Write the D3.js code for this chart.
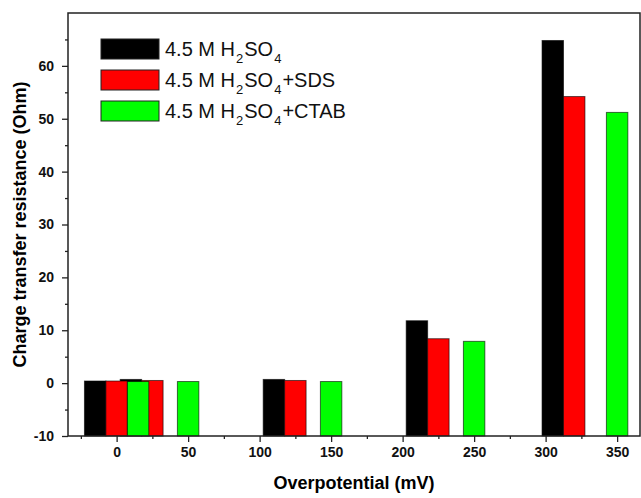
<!DOCTYPE html>
<html lang="en">
<head>
    <meta charset="UTF-8">
    <title>Charge transfer resistance</title>
    <script src="https://d3js.org/d3.v7.min.js"></script>
    <style>
        body { margin: 0; background: white; }
        svg { display: block; font-family: "Liberation Sans", Arial, sans-serif; }
        .tick text { font-weight: bold; font-size: 14px; fill: #111; }
        .tick line { stroke: #222; stroke-width: 1.3; }
    </style>
</head>
<body>
    <svg id="svg"></svg>
    <script>
        // series (bar centres on the overpotential axis, and bar heights)
        const seriesNames = ["4.5 M H_2SO_4", "4.5 M H_2SO_4+SDS", "4.5 M H_2SO_4+CTAB"];
        const seriesColors = ["#000000", "#ff0000", "#00ff00"];
        const blackX = [-15, 10, 110, 210, 305];
        const blackY = [0.4, 0.7, 0.7, 11.8, 64.8];
        const redX = [0, 25, 125, 225, 320];
        const redY = [0.4, 0.5, 0.5, 8.4, 54.2];
        const greenX = [15, 50, 150, 250, 350];
        const greenY = [0.3, 0.3, 0.3, 7.9, 51.2];
        const xTicks = [0, 50, 100, 150, 200, 250, 300, 350];
        const xMinor = [-25, 25, 75, 125, 175, 225, 275, 325];
        const yTicks = [-10, 0, 10, 20, 30, 40, 50, 60];
        const yMinor = [-5, 5, 15, 25, 35, 45, 55, 65];

        const width = 641, height = 498;
        const pLeft = 68, pRight = 640, pTop = 13, pBottom = 436;
        const barW = 15;

        const svg = d3.select('#svg').attr('width', width).attr('height', height);

        const x = d3.scaleLinear().domain([-34, 366]).range([pLeft, pRight]);
        const y = d3.scaleLinear().domain([-10, 70]).range([pBottom, pTop]);

        const allSeries = [
            { xs: blackX, ys: blackY },
            { xs: redX, ys: redY },
            { xs: greenX, ys: greenY }
        ];

        // bars, drawn from the bottom of the axis like Origin does
        allSeries.forEach((s, i) => {
            const pts = s.xs.map((v, j) => [v, s.ys[j]]);
            svg.append('g').selectAll('rect')
                .data(pts)
                .enter()
                .append('rect')
                .attr('x', d => x(d[0] - barW / 2))
                .attr('width', d => x(d[0] + barW / 2) - x(d[0] - barW / 2))
                .attr('y', d => y(d[1]))
                .attr('height', d => y(-10) - y(d[1]))
                .attr('fill', seriesColors[i])
                .attr('stroke', '#000')
                .attr('stroke-opacity', 0.6)
                .attr('stroke-width', 1);
        });

        //axes
        const fmt = d => String(d);
        svg.append('g').attr('transform', 'translate(0,' + pBottom + ')')
            .call(d3.axisBottom(x).tickValues(xTicks).tickSize(6).tickPadding(5).tickFormat(fmt));
        svg.append('g').attr('transform', 'translate(0,' + pBottom + ')')
            .call(d3.axisBottom(x).tickValues(xMinor).tickSize(3).tickFormat(''));
        svg.append('g').attr('transform', 'translate(' + pLeft + ',0)')
            .call(d3.axisLeft(y).tickValues(yTicks).tickSize(6).tickPadding(8).tickFormat(fmt));
        svg.append('g').attr('transform', 'translate(' + pLeft + ',0)')
            .call(d3.axisLeft(y).tickValues(yMinor).tickSize(3).tickFormat(''));
        svg.selectAll('.domain').remove();
        svg.selectAll('.tick text').filter(function() { return this.textContent === ''; }).remove();

        // frame
        svg.append('rect')
            .attr('x', pLeft).attr('y', pTop)
            .attr('width', pRight - pLeft).attr('height', pBottom - pTop)
            .attr('fill', 'none').attr('stroke', '#222').attr('stroke-width', 1.5);

        // axis titles
        svg.append('text')
            .attr('x', (pLeft + pRight) / 2).attr('y', 489)
            .attr('text-anchor', 'middle')
            .style('font-weight', 'bold').style('font-size', '18px')
            .text('Overpotential (mV)');
        svg.append('text')
            .attr('transform', 'translate(26,' + (pTop + pBottom) / 2 + ') rotate(-90)')
            .attr('text-anchor', 'middle')
            .style('font-weight', 'bold').style('font-size', '18px')
            .text('Charge transfer resistance (Ohm)');

        // legend, subscripts as lowered tspans
        const legend = svg.append('g').attr('transform', 'translate(101,39)');
        seriesNames.forEach((name, i) => {
            const row = legend.append('g').attr('transform', 'translate(0,' + i * 31 + ')');
            row.append('rect')
                .attr('width', 58).attr('height', 20)
                .attr('fill', seriesColors[i])
                .attr('stroke', '#222').attr('stroke-width', 1);
            const t = row.append('text')
                .attr('x', 64).attr('y', 17)
                .style('font-size', '20px').attr('fill', '#111');
            let lift = 0;
            name.split(/(_\d)/).forEach(part => {
                if (part.startsWith('_')) {
                    t.append('tspan').attr('dx', 1).attr('dy', 7).style('font-size', '13px').text(part.slice(1));
                    lift = -7;
                } else if (part) {
                    t.append('tspan').attr('dx', lift ? 1 : 0).attr('dy', lift).text(part);
                    lift = 0;
                }
            });
        });
    </script>
</body>
</html>
